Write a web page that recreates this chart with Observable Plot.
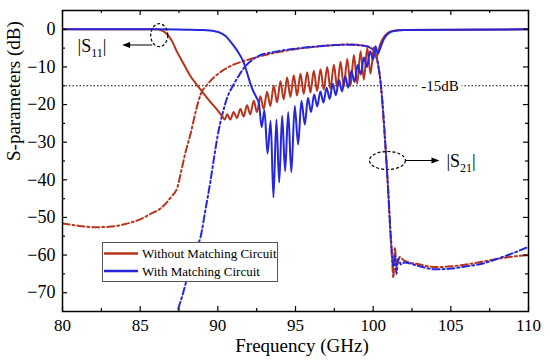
<!DOCTYPE html>
<html><head><meta charset="utf-8">
<script src="https://cdn.jsdelivr.net/npm/d3@7"></script>
<script src="https://cdn.jsdelivr.net/npm/@observablehq/plot@0.6"></script>
<style>body{margin:0;background:#fff}#chart{width:550px;height:363px}</style>
</head><body><div id="chart"></div>
<script>
// ---- axis ticks ----
const xMajor = [80, 85, 90, 95, 100, 105, 110];
const xMinor = [82.5, 87.5, 92.5, 97.5, 102.5, 107.5];
const yMajor = [-70, -60, -50, -40, -30, -20, -10, 0];
const yMinor = [-65, -55, -45, -35, -25, -15, -5];
const refLevel = [-15];

// ---- series: [frequency GHz, dB] ----
const s11Without = [
  [80,0],[84,0],[86,0],[86.4,-0.3],[86.7,-1.2],[87.0,-2.8],[87.4,-6.2],[87.8,-9.2],[88.2,-12.2],
  [88.6,-14.5],[89.0,-16.6],[89.5,-19.2],[90.0,-21.6],[90.3,-23.2],[90.45,-24],
  [90.60,-22.6],[90.80,-24.0],[91.02,-22.0],[91.23,-23.6],[91.45,-21.2],[91.66,-23.2],[91.88,-20.2],
  [92.09,-22.6],[92.31,-19.0],[92.52,-22.0],[92.74,-17.8],[92.95,-21.2],[93.17,-16.6],[93.38,-20.4],
  [93.60,-15.0],[93.81,-19.4],[94.03,-13.8],[94.24,-18.6],[94.46,-12.8],[94.67,-18.0],[94.89,-12.2],
  [95.10,-17.6],[95.32,-11.8],[95.53,-17.2],[95.75,-11.4],[95.96,-16.8],[96.18,-11.0],[96.39,-16.4],
  [96.61,-10.6],[96.82,-16.0],[97.04,-10.0],[97.25,-15.8],[97.47,-9.4],[97.68,-15.4],[97.90,-8.6],
  [98.11,-15.2],[98.33,-7.8],[98.54,-15.0],[98.76,-6.8],[98.97,-14.4],[99.19,-5.8],[99.40,-13.4],
  [99.62,-5.0],[99.83,-11.8],[100.05,-4.8],[100.2,-7.5],[100.45,-4],[100.7,-2],[101.2,-0.5],[102,-0.2],[110,0]
];
const s11With = [
  [80,0],[86,0],[88,-0.1],[89,-0.2],[89.8,-0.5],[90.2,-1.0],[90.5,-1.8],[90.8,-3.2],[91.1,-4.8],
  [91.3,-6.0],[91.5,-7.4],[91.7,-9.2],[91.9,-11.8],[92.1,-14.5],[92.3,-16.6],[92.5,-18.2],[92.65,-19.8],
  [92.82,-26],[93.0,-21.5],[93.2,-33],[93.4,-24.4],[93.58,-44.7],[93.77,-24],[93.95,-40.7],[94.14,-23],
  [94.33,-37.7],[94.53,-22],[94.73,-38],[94.95,-20.4],[95.17,-30.6],[95.38,-19],[95.6,-25.3],[95.8,-18.2],
  [96.0,-22],[96.2,-17.3],[96.4,-20.5],[96.6,-16.5],[96.8,-19.5],[97.0,-15.5],[97.2,-18.5],[97.4,-14.5],
  [97.6,-17.5],[97.8,-13.5],[98.0,-16.5],[98.2,-12.5],[98.4,-15.5],[98.6,-11],[98.8,-14],[99.0,-9.5],
  [99.2,-12],[99.4,-7.5],[99.6,-10],[99.8,-5.8],[100.0,-8],[100.15,-4.5],[100.3,-6.5],[100.5,-4.5],
  [100.7,-2.5],[101.0,-1.0],[101.4,-0.4],[102,-0.2],[110,0]
];
const s21Without = [
  [80,-51.6],[81,-52.2],[82,-52.6],[83,-52.5],[84,-51.8],[85,-50.5],[85.7,-49],[86.1,-48.2],[86.6,-46.5],
  [87.0,-44.5],[87.4,-42],[87.6,-38.5],[87.9,-33],[88.26,-27.5],[88.6,-21.5],[88.9,-17.2],[89.3,-14.8],
  [89.8,-12.6],[90.3,-11],[90.8,-9.8],[91.7,-8.4],[92.8,-7.1],[94.1,-5.9],[95.3,-5.1],[96.6,-4.5],
  [97.5,-4.2],[98.4,-4.0],[99.2,-4.2],[99.8,-4.9],[100.1,-6],[100.3,-9],[100.5,-15],[100.7,-26],
  [100.9,-38],[101.05,-50],[101.2,-60],[101.3,-66],[101.4,-58],[101.5,-63],[101.7,-60.5],[102,-61.5],
  [103,-62.5],[104,-63.2],[105,-63],[106,-62.5],[107,-61.8],[108,-61],[109,-60.4],[110,-60]
];
const s21With = [
  [87.0,-82],[87.4,-75],[87.7,-71],[88.0,-66.5],[88.3,-62],[88.7,-57.6],[88.9,-55],[89.2,-48],[89.5,-41],
  [89.8,-33],[90.0,-28],[90.3,-22.5],[90.6,-18.2],[91.0,-14.8],[91.4,-12],[91.7,-10.2],[92.1,-8.5],
  [92.6,-7.1],[93.4,-6.2],[94.5,-5.4],[95.5,-4.9],[96.5,-4.5],[97.5,-4.2],[98.5,-4.1],[99.3,-4.3],
  [99.8,-4.8],[100.1,-6],[100.3,-9],[100.5,-15],[100.7,-25],[100.85,-35],[101.0,-45],[101.15,-56],
  [101.3,-63],[101.4,-60],[101.5,-65],[101.6,-61],[101.8,-62.5],[102,-62],[103,-63],[104,-63.8],
  [105,-63.6],[106,-63],[107,-62.3],[108,-61],[109,-59.5],[110,-57.8]
];
const legendLabels = ["Without Matching Circuit", "With Matching Circuit"];

const RED = "#b8341c", BLUE = "#2626dc";
const toObj = a => a.map(([f, db]) => ({f, db}));
const font = '"Liberation Serif", "Times New Roman", Times, serif';
const fmt = d => d < 0 ? "\u2212" + Math.abs(d) : String(d);

const W = 550, H = 363, mL = 62, mR = 22, mT = 10, mB = 52;
const pw = W - mL - mR, ph = H - mT - mB;

const chart = Plot.plot({
  width: W, height: H, marginLeft: mL, marginRight: mR, marginTop: mT, marginBottom: mB,
  style: {fontFamily: font, background: "#fff", color: "#000"},
  x: {domain: [80, 110]},
  y: {domain: [-75, 5]},
  marks: [
    Plot.ruleY(refLevel, {stroke: "#000", strokeWidth: 1, strokeDasharray: "1.5,2"}),
    Plot.text(refLevel, {x: 104.3, y: d => d, text: () => "-15dB", fontSize: 15, fontFamily: font, stroke: "#fff", strokeWidth: 8, fill: "#000", paintOrder: "stroke"}),
    Plot.line(toObj(s21Without), {x: "f", y: "db", stroke: RED, strokeWidth: 2, strokeDasharray: "7,3,2,3", curve: "monotone-x", clip: true}),
    Plot.line(toObj(s21With), {x: "f", y: "db", stroke: BLUE, strokeWidth: 2, strokeDasharray: "7,3,2,3", curve: "monotone-x", clip: true}),
    Plot.line(toObj(s11Without), {x: "f", y: "db", stroke: RED, strokeWidth: 2, curve: "monotone-x", clip: true}),
    Plot.line(toObj(s11With), {x: "f", y: "db", stroke: BLUE, strokeWidth: 2, curve: "monotone-x", clip: true}),
    Plot.tickX(xMajor, {x: d => d, insetTop: ph - 5, stroke: "#000", strokeWidth: 1.2}),
    Plot.tickX(xMajor, {x: d => d, insetBottom: ph - 5, stroke: "#000", strokeWidth: 1.2}),
    Plot.tickX(xMinor, {x: d => d, insetTop: ph - 3, stroke: "#000", strokeWidth: 1.2}),
    Plot.tickX(xMinor, {x: d => d, insetBottom: ph - 3, stroke: "#000", strokeWidth: 1.2}),
    Plot.tickY(yMajor, {y: d => d, insetRight: pw - 5, stroke: "#000", strokeWidth: 1.2}),
    Plot.tickY(yMajor, {y: d => d, insetLeft: pw - 5, stroke: "#000", strokeWidth: 1.2}),
    Plot.tickY(yMinor, {y: d => d, insetRight: pw - 3, stroke: "#000", strokeWidth: 1.2}),
    Plot.tickY(yMinor, {y: d => d, insetLeft: pw - 3, stroke: "#000", strokeWidth: 1.2}),
    Plot.axisX(xMajor, {tickSize: 0, tickPadding: 7, fontSize: 17, fontFamily: font, label: null, tickFormat: fmt}),
    Plot.axisY(yMajor, {tickSize: 0, tickPadding: 7, fontSize: 18, fontFamily: font, label: null, tickFormat: fmt}),
    Plot.text(["Frequency (GHz)"], {frameAnchor: "bottom", dy: 40, dx: 6.5, fontSize: 19, fontFamily: font}),
    Plot.text(["S-parameters (dB)"], {frameAnchor: "left", dx: -49, rotate: -90, fontSize: 19, fontFamily: font}),
    Plot.frame({stroke: "#000", strokeWidth: 1.5})
  ]
});
document.getElementById("chart").appendChild(chart);

// ---- annotations placed through the chart scales ----
const sx = chart.scale("x"), sy = chart.scale("y");
const svg = d3.select(chart);
const ann = svg.append("g").attr("font-family", font).attr("text-anchor", "start");
function ellipse(f, db, rx, ry) {
  ann.append("ellipse").attr("cx", sx.apply(f)).attr("cy", sy.apply(db)).attr("rx", rx).attr("ry", ry)
    .attr("fill", "none").attr("stroke", "#000").attr("stroke-width", 1.2).attr("stroke-dasharray", "3,2");
}
function arrow(f1, f2, db) {
  const x1 = sx.apply(f1), x2 = sx.apply(f2), y = sy.apply(db);
  const dir = Math.sign(x2 - x1);
  ann.append("line").attr("x1", x1).attr("x2", x2 - dir * 6).attr("y1", y).attr("y2", y).attr("stroke", "#000").attr("stroke-width", 1);
  ann.append("path").attr("d", `M${x2},${y}L${x2 - dir * 8},${y - 3}L${x2 - dir * 8},${y + 3}Z`).attr("fill", "#000");
}
function sLabel(f, db, sub) {
  const t = ann.append("text").attr("x", sx.apply(f)).attr("y", sy.apply(db)).attr("dy", "0.35em")
    .attr("font-size", 18).attr("text-anchor", "start");
  t.append("tspan").text("|S");
  t.append("tspan").attr("dy", 5).attr("font-size", 12).text(sub);
  t.append("tspan").attr("dy", -5).text("|");
}
ellipse(86.26, -1.7, 8.5, 11.5);
arrow(85.81, 83.87, -4.3);
sLabel(81.0, -4.5, "11");
ellipse(100.95, -35, 18, 9);
arrow(102.13, 104.3, -35);
sLabel(104.75, -35, "21");

// ---- legend (inside plot area) ----
const lg = svg.append("g").attr("font-family", font).attr("text-anchor", "start");
lg.append("rect").attr("x", 102.5).attr("y", 242.5).attr("width", 175).attr("height", 39)
  .attr("fill", "#fff").attr("stroke", "#555").attr("stroke-width", 1);
[RED, BLUE].forEach((c, i) => {
  const y = 253.5 + i * 17.5;
  lg.append("line").attr("x1", 104).attr("x2", 138).attr("y1", y).attr("y2", y).attr("stroke", c).attr("stroke-width", 2.5);
  lg.append("text").attr("x", 142).attr("y", y).attr("dy", "0.35em").attr("font-size", 13)
    .attr("text-anchor", "start").text(legendLabels[i]);
});
</script>
</body></html>
